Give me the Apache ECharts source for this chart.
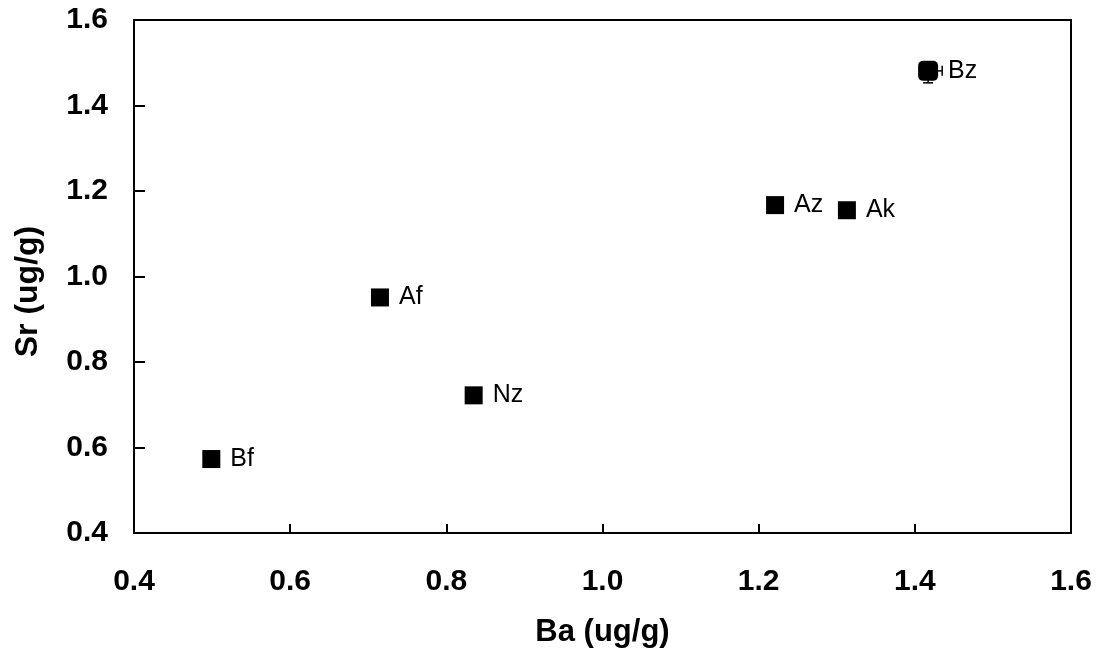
<!DOCTYPE html>
<html>
<head>
<meta charset="utf-8">
<script src="https://cdn.jsdelivr.net/npm/echarts@6/dist/echarts.min.js"></script>
<style>
html,body{margin:0;padding:0;background:#fff;}
#chart{width:1100px;height:653px;}
</style>
</head>
<body>
<div id="chart"></div>
<script>
const sampleNames = ['Bf', 'Af', 'Nz', 'Az', 'Ak', 'Bz'];
const baValues = [0.499, 0.715, 0.835, 1.221, 1.313, 1.417];
const srValues = [0.573, 0.951, 0.722, 1.167, 1.155, 1.481];
// error bars (only visible at Bz)
const baErrPlus = [0, 0, 0, 0, 0, 0.018];
const srErrMinus = [0, 0, 0, 0, 0, 0.028];
const axisTicks = [0.4, 0.6, 0.8, 1.0, 1.2, 1.4, 1.6];

const points = sampleNames.map((n, i) => ({
  value: [baValues[i], srValues[i], baErrPlus[i], srErrMinus[i]],
  name: n,
  symbol: n === 'Bz' ? 'roundRect' : 'rect',
  symbolSize: n === 'Bz' ? 20 : 18
}));

const font = '"Liberation Sans", Arial, sans-serif';
const chart = echarts.init(document.getElementById('chart'));
chart.setOption({
  animation: false,
  grid: { left: 134, right: 29, top: 20, bottom: 119, show: true, borderColor: '#000', borderWidth: 2, backgroundColor: '#fff' },
  xAxis: {
    type: 'value', min: axisTicks[0], max: axisTicks[axisTicks.length - 1], interval: 0.2,
    name: 'Ba (ug/g)', nameLocation: 'middle', nameGap: 84,
    nameTextStyle: { fontFamily: font, fontWeight: 'bold', fontSize: 31, color: '#000' },
    axisLine: { lineStyle: { color: '#000', width: 2 } },
    axisTick: { inside: true, length: 9, lineStyle: { color: '#000', width: 2 } },
    axisLabel: { margin: 34, fontFamily: font, fontWeight: 'bold', fontSize: 30, color: '#000', formatter: v => v.toFixed(1) },
    splitLine: { show: false }
  },
  yAxis: {
    type: 'value', min: axisTicks[0], max: axisTicks[axisTicks.length - 1], interval: 0.2,
    name: 'Sr (ug/g)', nameLocation: 'middle', nameGap: 90,
    nameTextStyle: { fontFamily: font, fontWeight: 'bold', fontSize: 32, color: '#000', padding: [0, 30, 0, 0] },
    axisLine: { lineStyle: { color: '#000', width: 2 } },
    axisTick: { inside: true, length: 11, lineStyle: { color: '#000', width: 2 } },
    axisLabel: { margin: 26, fontFamily: font, fontWeight: 'bold', fontSize: 30, color: '#000', formatter: v => v.toFixed(1) },
    splitLine: { show: false }
  },
  series: [
    {
      type: 'custom',
      renderItem: function (params, api) {
        const x = api.value(0), y = api.value(1), ex = api.value(2), ey = api.value(3);
        const children = [];
        if (ex > 0) {
          const p0 = api.coord([x, y]), p1 = api.coord([x + ex, y]);
          children.push({ type: 'line', shape: { x1: p0[0], y1: p0[1], x2: p1[0], y2: p1[1] }, style: { stroke: '#000', lineWidth: 1.5 } });
          children.push({ type: 'line', shape: { x1: p1[0], y1: p1[1] - 5, x2: p1[0], y2: p1[1] + 5 }, style: { stroke: '#000', lineWidth: 1.5 } });
        }
        if (ey > 0) {
          const p0 = api.coord([x, y]), p1 = api.coord([x, y - ey]);
          children.push({ type: 'line', shape: { x1: p0[0], y1: p0[1], x2: p1[0], y2: p1[1] }, style: { stroke: '#000', lineWidth: 1.5 } });
          children.push({ type: 'line', shape: { x1: p1[0] - 5, y1: p1[1], x2: p1[0] + 5, y2: p1[1] }, style: { stroke: '#000', lineWidth: 1.5 } });
        }
        return { type: 'group', children: children };
      },
      data: points.map(p => p.value),
      z: 1
    },
    {
      type: 'scatter',
      data: points,
      itemStyle: { color: '#000', opacity: 1 },
      label: {
        show: true, position: 'right', distance: 10,
        formatter: p => p.name,
        fontFamily: font, fontSize: 25, color: '#000', opacity: 1
      },
      emphasis: { disabled: true },
      z: 2
    }
  ]
});
</script>
</body>
</html>
